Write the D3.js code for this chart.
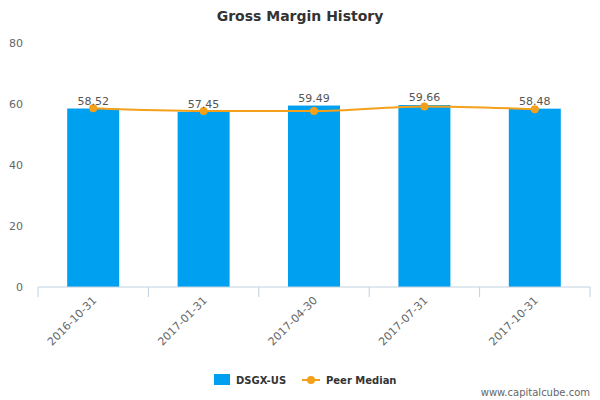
<!DOCTYPE html>
<html lang="en">
<head>
<meta charset="UTF-8">
<title>Gross Margin History</title>
<script src="https://d3js.org/d3.v7.min.js"></script>
<style>
  body { margin: 0; background: #fff; }
  text { font-family: "DejaVu Sans", sans-serif; }
</style>
</head>
<body>
<div id="chart"></div>
<script>
  // values
  const dates = ["2016-10-31", "2017-01-31", "2017-04-30", "2017-07-31", "2017-10-31"]
  const company = [58.52, 57.45, 59.49, 59.66, 58.48]
  const peerMedian = [58.6, 57.7, 57.7, 59.2, 58.3]
  const yTicks = [0, 20, 40, 60, 80]

  const width = 600, height = 400
  const margin = { top: 43, right: 10, bottom: 113, left: 38 }

  const svg = d3.select("#chart").append("svg")
    .attr("width", width).attr("height", height)

  const x = d3.scaleBand().domain(dates)
    .range([margin.left, width - margin.right])
  const y = d3.scaleLinear().domain([0, 80])
    .range([height - margin.bottom, margin.top])

  svg.append("text")
    .attr("x", width / 2).attr("y", 21)
    .attr("text-anchor", "middle")
    .attr("font-size", 14).attr("font-weight", "bold").attr("fill", "#333")
    .text("Gross Margin History")

  // y axis labels
  svg.selectAll(".ytick").data(yTicks).enter().append("text")
    .attr("x", 23).attr("y", d => y(d) + 4)
    .attr("text-anchor", "end").attr("font-size", 11).attr("fill", "#666")
    .text(d => d)

  // bars
  const barW = 52
  svg.selectAll("rect.bar").data(company).enter().append("rect")
    .attr("x", (d, i) => x(dates[i]) + x.bandwidth() / 2 - barW / 2)
    .attr("y", d => y(d))
    .attr("width", barW)
    .attr("height", d => y(0) - y(d))
    .attr("fill", "#00a0f0")

  // x axis
  const xAxis = svg.append("g")
    .attr("transform", `translate(0,${y(0)})`)
  xAxis.append("line")
    .attr("x1", margin.left).attr("x2", width - margin.right)
    .attr("stroke", "#c0d0e0")
  xAxis.selectAll(".tk").data(d3.range(dates.length + 1)).enter().append("line")
    .attr("x1", i => margin.left + i * x.step()).attr("x2", i => margin.left + i * x.step())
    .attr("y1", 0).attr("y2", 10).attr("stroke", "#c0d0e0")
  xAxis.selectAll(".lbl").data(dates).enter().append("text")
    .attr("transform", d => `translate(${x(d) + x.bandwidth() / 2 + 4},${14}) rotate(-45)`)
    .attr("text-anchor", "end").attr("font-size", 11).attr("fill", "#666")
    .text(d => d)

  // peer median line
  const cx = i => x(dates[i]) + x.bandwidth() / 2
  const line = d3.line().x((d, i) => cx(i)).y(d => y(d)).curve(d3.curveMonotoneX)
  svg.append("path").datum(peerMedian)
    .attr("d", line).attr("fill", "none")
    .attr("stroke", "#f5a01a").attr("stroke-width", 2)
  svg.selectAll("circle.pm").data(peerMedian).enter().append("circle")
    .attr("cx", (d, i) => cx(i)).attr("cy", d => y(d))
    .attr("r", 4).attr("fill", "#f5a01a")

  // value labels
  svg.selectAll("text.val").data(company).enter().append("text")
    .attr("x", (d, i) => cx(i)).attr("y", d => y(d) - 4)
    .attr("text-anchor", "middle").attr("font-size", 11).attr("fill", "#555")
    .text(d => d.toFixed(2))

  // legend
  const lg = svg.append("g").attr("transform", "translate(0,381)")
  lg.append("rect").attr("x", 214).attr("y", -7).attr("width", 16).attr("height", 11).attr("fill", "#00a0f0")
  lg.append("text").attr("x", 236).attr("y", 3).attr("font-size", 10).attr("font-weight", "bold").attr("fill", "#333").text("DSGX-US")
  lg.append("line").attr("x1", 302).attr("x2", 320).attr("y1", -1).attr("y2", -1).attr("stroke", "#f5a01a").attr("stroke-width", 2)
  lg.append("circle").attr("cx", 311).attr("cy", -1).attr("r", 4).attr("fill", "#f5a01a")
  lg.append("text").attr("x", 326).attr("y", 3).attr("font-size", 10).attr("font-weight", "bold").attr("fill", "#333").text("Peer Median")

  svg.append("text").attr("x", 590).attr("y", 396)
    .attr("text-anchor", "end").attr("font-size", 10).attr("fill", "#666")
    .text("www.capitalcube.com")
</script>
</body>
</html>
